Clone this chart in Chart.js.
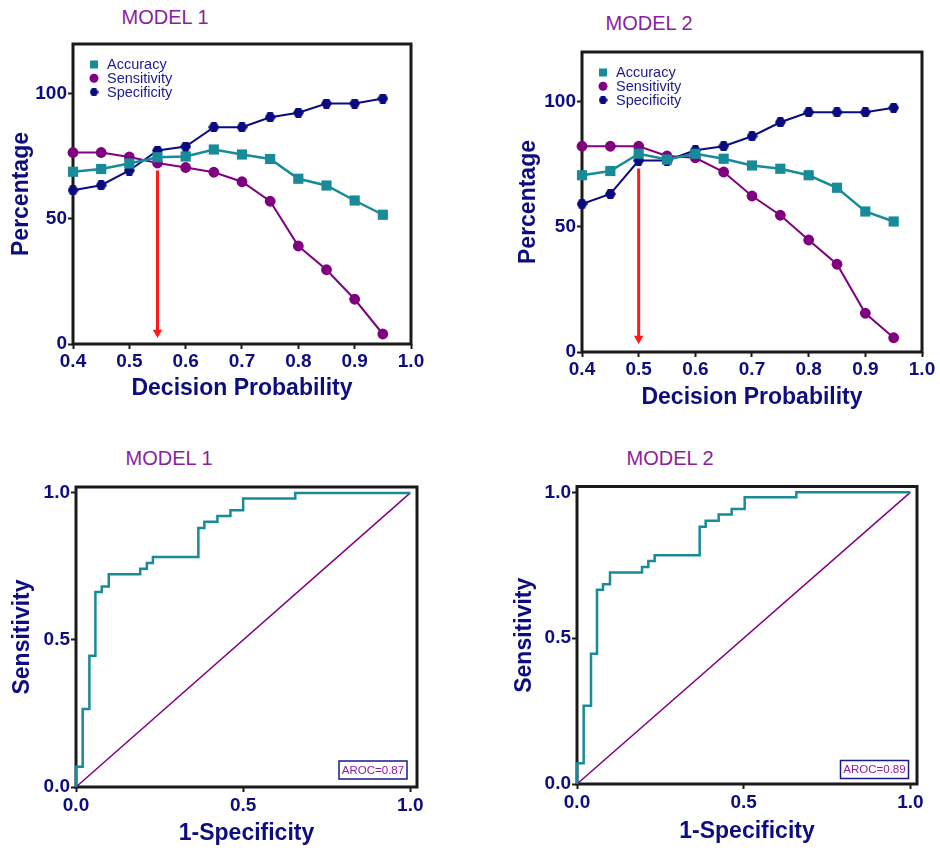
<!DOCTYPE html>
<html><head><meta charset="utf-8">
<script src="https://cdn.jsdelivr.net/npm/chart.js@4.4.0/dist/chart.umd.min.js"></script>
<style>
html,body{margin:0;padding:0;background:#fff;width:940px;height:850px;overflow:hidden;position:relative;font-family:"Liberation Sans",Arial,sans-serif}
canvas{position:absolute}
.ttl{position:absolute;width:160px;text-align:center;font-size:20px;line-height:20px;color:#8a1ea0;white-space:nowrap}
</style></head><body>
<div class="ttl" style="left:85px;top:7px">MODEL 1</div>
<div class="ttl" style="left:569px;top:13px">MODEL 2</div>
<div class="ttl" style="left:89px;top:448px">MODEL 1</div>
<div class="ttl" style="left:590px;top:448px">MODEL 2</div>
<canvas id="c1" style="left:0;top:0" width="450" height="420"></canvas>
<canvas id="c2" style="left:505px;top:0" width="435" height="430"></canvas>
<canvas id="c3" style="left:0;top:430px" width="450" height="420"></canvas>
<canvas id="c4" style="left:505px;top:430px" width="435" height="420"></canvas>
<script>
// ---------- data ----------
const probs = [0.4, 0.45, 0.5, 0.55, 0.6, 0.65, 0.7, 0.75, 0.8, 0.85, 0.9, 0.95];
const seriesNames = ['Accuracy', 'Sensitivity', 'Specificity'];
const m1Accuracy    = [68.9, 70.0, 72.2, 74.7, 75.0, 77.8, 75.8, 74.0, 66.1, 63.4, 57.4, 51.7];
const m1Sensitivity = [76.6, 76.6, 74.8, 72.4, 70.6, 68.7, 64.9, 57.1, 39.2, 29.7, 17.9, 4.0];
const m1Specificity = [61.5, 63.5, 69.4, 77.4, 79.0, 86.7, 86.7, 90.7, 92.5, 96.2, 96.2, 98.2];
const m2Accuracy    = [70.7, 72.4, 79.3, 77.0, 79.3, 77.3, 74.6, 73.3, 70.7, 65.7, 56.2, 52.2];
const m2Sensitivity = [82.3, 82.3, 82.3, 78.4, 77.7, 72.0, 62.4, 54.7, 44.8, 35.1, 15.5, 5.7];
const m2Specificity = [59.2, 63.2, 76.6, 76.6, 80.7, 82.3, 86.3, 91.9, 95.9, 95.9, 95.9, 97.7];
const m1Cutoff = 0.55, m1ArrowFrom = 69.4, m1ArrowTo = 4.6;
const m2Cutoff = 0.5,  m2ArrowFrom = 73.4, m2ArrowTo = 5.4;
const probTicks = [0.4, 0.5, 0.6, 0.7, 0.8, 0.9, 1.0];
const pctTicks = [0, 50, 100];
const rocTicks = [0, 0.5, 1.0];
const m1Fpr = [0, 0.02, 0.04, 0.058, 0.077, 0.098, 0.192, 0.212, 0.23, 0.366, 0.384, 0.423, 0.462, 0.5, 0.656, 1.0];
const m1Tpr = [0, 0.069, 0.265, 0.446, 0.663, 0.682, 0.723, 0.742, 0.762, 0.782, 0.881, 0.902, 0.921, 0.941, 0.981, 1.0];
const m2Fpr = [0, 0.02, 0.042, 0.06, 0.078, 0.099, 0.195, 0.214, 0.233, 0.368, 0.386, 0.425, 0.464, 0.503, 0.658, 1.0];
const m2Tpr = [0, 0.071, 0.268, 0.447, 0.666, 0.685, 0.725, 0.744, 0.765, 0.784, 0.882, 0.903, 0.924, 0.943, 0.983, 1.0];
const chanceLine = [0, 1];
const m1Auc = 'AROC=0.87';
const m2Auc = 'AROC=0.89';
const titles = { prob: 'Decision Probability', pct: 'Percentage', fpr: '1-Specificity', tpr: 'Sensitivity' };

// ---------- styles ----------
const FONT = '"Liberation Sans", Arial, sans-serif';
const TEAL = '#178b97', PURPLE = '#800080', NAVY = '#0b0b80', TXT = '#0d0d80', RED = '#ff1a1a', FRAME = '#1a1a1a';

function hexImg(w, h, color) {
  const c = document.createElement('canvas'); c.width = w; c.height = h;
  const g = c.getContext('2d'); g.fillStyle = color; g.beginPath();
  g.moveTo(0, h / 2); g.lineTo(w * 0.27, 0); g.lineTo(w * 0.73, 0); g.lineTo(w, h / 2);
  g.lineTo(w * 0.73, h); g.lineTo(w * 0.27, h); g.closePath(); g.fill();
  return c;
}
const hexPoint = hexImg(11, 10, NAVY);

const framePlugin = {
  id: 'frame',
  beforeDatasetsDraw(chart) {
    const { ctx, chartArea: a } = chart;
    ctx.save(); ctx.strokeStyle = FRAME; ctx.lineWidth = 3;
    ctx.strokeRect(a.left, a.top, a.right - a.left, a.bottom - a.top);
    ctx.restore();
  }
};

const insideLegend = {
  id: 'insideLegend',
  afterDatasetsDraw(chart, args, o) {
    if (!o || !o.show) return;
    const { ctx, chartArea: a } = chart;
    ctx.save();
    ctx.font = '14.5px ' + FONT; ctx.textBaseline = 'middle'; ctx.textAlign = 'left';
    seriesNames.forEach((name, i) => {
      const x = a.left + o.dx, y = a.top + o.dy + i * o.step;
      if (i === 0) { ctx.fillStyle = TEAL; ctx.fillRect(x - 4, y - 4, 8, 8); }
      else if (i === 1) { ctx.fillStyle = PURPLE; ctx.beginPath(); ctx.arc(x, y, 4.5, 0, Math.PI * 2); ctx.fill(); }
      else { ctx.drawImage(hexImg(9, 8, NAVY), x - 4.5, y - 4); }
      ctx.fillStyle = '#1b1b8f'; ctx.fillText(name, a.left + o.textDx, y + 0.5);
    });
    ctx.restore();
  }
};

const aucBox = {
  id: 'aucBox',
  afterDatasetsDraw(chart, args, o) {
    if (!o || !o.text) return;
    const { ctx, chartArea: a } = chart;
    const w = 68, h = 18;
    const x = a.right - o.dr - w, y = a.bottom - o.db - h;
    ctx.save();
    ctx.fillStyle = '#fff'; ctx.fillRect(x, y, w, h);
    ctx.strokeStyle = '#1a1a8a'; ctx.lineWidth = 1.5; ctx.strokeRect(x, y, w, h);
    ctx.fillStyle = '#8a1ea0'; ctx.font = '11.5px ' + FONT; ctx.textAlign = 'center'; ctx.textBaseline = 'middle';
    ctx.fillText(o.text, x + w / 2, y + h / 2 + 0.5);
    ctx.restore();
  }
};

function axis(cfg) {
  return {
    type: 'linear', position: cfg.pos, min: cfg.min, max: cfg.max,
    afterFit: s => { if (cfg.pos === 'left') s.width = cfg.size; else s.height = cfg.size; s.paddingLeft = 0; s.paddingRight = 0; s.paddingTop = 0; s.paddingBottom = 0; },
    afterBuildTicks: s => { s.ticks = cfg.ticks.map(v => ({ value: v })); },
    ticks: { callback: cfg.fmt, font: { family: FONT, size: 19, weight: 'bold' }, color: TXT, padding: cfg.tickPad, maxRotation: 0, autoSkip: false },
    grid: { display: true, drawOnChartArea: false, drawTicks: true, tickLength: 5, tickColor: FRAME, tickWidth: 2 },
    border: { display: false },
    title: { display: true, text: cfg.title, color: TXT, font: { family: FONT, size: 23, weight: 'bold' }, padding: cfg.pos === 'left' ? { top: cfg.titlePad, bottom: 0 } : { top: 0, bottom: cfg.titlePad } }
  };
}

function baseOptions(c, xAxis, yAxis, plug) {
  return {
    responsive: false, animation: false, devicePixelRatio: 1,
    layout: { autoPadding: false, padding: { left: 0, top: c.top, right: c.right, bottom: 0 } },
    plugins: Object.assign({ legend: { display: false }, tooltip: { enabled: false }, title: { display: false } }, plug),
    scales: { x: xAxis, y: yAxis }
  };
}

function probChart(id, c, acc, sens, spec, cut, from, to) {
  const pts = arr => probs.map((p, i) => ({ x: p, y: arr[i] }));
  new Chart(document.getElementById(id), {
    type: 'line',
    data: { datasets: [
      { label: seriesNames[0], data: pts(acc), borderColor: TEAL, backgroundColor: TEAL, borderWidth: 2.5, pointStyle: 'rect', pointRadius: 7.2, pointBorderWidth: 0, clip: false },
      { label: seriesNames[1], data: pts(sens), borderColor: PURPLE, backgroundColor: PURPLE, borderWidth: 2, pointStyle: 'circle', pointRadius: 5.4, pointBorderWidth: 0, clip: false },
      { label: seriesNames[2], data: pts(spec), borderColor: NAVY, backgroundColor: NAVY, borderWidth: 2, pointStyle: hexPoint, pointRadius: 5, clip: false },
      { label: 'cutoff', data: [{ x: cut, y: from }, { x: cut, y: to }], borderColor: RED, backgroundColor: RED, borderWidth: 3, pointStyle: 'triangle', pointRotation: 180, pointRadius: [0, 5.5], pointBorderWidth: 0, clip: false }
    ] },
    options: baseOptions(c,
      axis({ pos: 'bottom', min: 0.4, max: 1.0, ticks: probTicks, fmt: v => v.toFixed(1), size: c.xH, tickPad: c.xTickPad, title: titles.prob, titlePad: c.xTitlePad }),
      axis({ pos: 'left', min: 0, max: 120, ticks: pctTicks, fmt: v => String(v), size: c.yW, tickPad: 1, title: titles.pct, titlePad: c.yTitlePad }),
      { insideLegend: { show: true, dx: 21, dy: 20.5, step: 13.8, textDx: 34 } }),
    plugins: [framePlugin, insideLegend]
  });
}

function rocChart(id, c, fpr, tpr, auc) {
  new Chart(document.getElementById(id), {
    type: 'line',
    data: { datasets: [
      { label: 'ROC', data: fpr.map((x, i) => ({ x: x, y: tpr[i] })), stepped: 'after', borderColor: TEAL, borderWidth: 2.5, pointRadius: 0, clip: false },
      { label: 'Chance', data: chanceLine.map(v => ({ x: v, y: v })), borderColor: PURPLE, borderWidth: 1.5, pointRadius: 0, clip: false }
    ] },
    options: baseOptions(c,
      axis({ pos: 'bottom', min: 0, max: 1.02, ticks: rocTicks, fmt: v => v.toFixed(1), size: c.xH, tickPad: c.xTickPad, title: titles.fpr, titlePad: c.xTitlePad }),
      axis({ pos: 'left', min: 0, max: 1.02, ticks: rocTicks, fmt: v => v.toFixed(1), size: c.yW, tickPad: 1, title: titles.tpr, titlePad: c.yTitlePad }),
      { aucBox: { text: auc, dr: c.aucR, db: c.aucB } }),
    plugins: [framePlugin, aucBox]
  });
}

probChart('c1', { top: 44, right: 39, yW: 73, xH: 76, xTickPad: 1, xTitlePad: 17.5, yTitlePad: 8 }, m1Accuracy, m1Sensitivity, m1Specificity, m1Cutoff, m1ArrowFrom, m1ArrowTo);
probChart('c2', { top: 52, right: 18, yW: 77, xH: 78, xTickPad: 1, xTitlePad: 18.5, yTitlePad: 9.5 }, m2Accuracy, m2Sensitivity, m2Specificity, m2Cutoff, m2ArrowFrom, m2ArrowTo);
rocChart('c3', { top: 57, right: 33, yW: 76, xH: 63, xTickPad: 2.5, xTitlePad: 2.5, yTitlePad: 8.5, aucR: 10, aucB: 8 }, m1Fpr, m1Tpr, m1Auc);
rocChart('c4', { top: 56.5, right: 23, yW: 72, xH: 66, xTickPad: 2.5, xTitlePad: 4.5, yTitlePad: 5.5, aucR: 8.5, aucB: 5.5 }, m2Fpr, m2Tpr, m2Auc);
</script>
</body></html>
